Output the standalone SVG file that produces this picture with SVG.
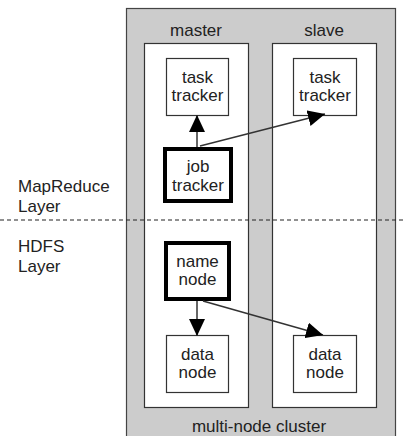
<svg xmlns="http://www.w3.org/2000/svg" width="406" height="436" viewBox="0 0 406 436">
<style>
text{font-family:"Liberation Sans",Arial,sans-serif;font-size:17px;fill:#222;}
.c{text-anchor:middle;}
.box{fill:#fff;stroke:#333;stroke-width:1.2;}
.thick{fill:#fff;stroke:#000;stroke-width:4;}
.con{stroke:#333;stroke-width:1.5;fill:none;}
</style>
<defs>
<marker id="ah" markerWidth="17" markerHeight="16" refX="17" refY="8" orient="auto" markerUnits="userSpaceOnUse">
<path d="M0,0 L17,8 L0,16 Z" fill="#000"/>
</marker>
</defs>
<g id="cluster">
<rect x="126.5" y="8.5" width="269" height="440" fill="#ccc" stroke="#444" stroke-width="1.2"/>
<text class="c" x="259" y="432">multi-node cluster</text>
</g>
<g id="master">
<rect x="144.5" y="43.5" width="104" height="364" class="box"/>
<text class="c" x="196" y="36">master</text>
</g>
<g id="slave">
<rect x="272.5" y="43.5" width="104" height="364" class="box"/>
<text class="c" x="324" y="36">slave</text>
</g>
<g id="layers">
<line x1="0" y1="220" x2="406" y2="220" stroke="#222" stroke-width="1.2" stroke-dasharray="4,3"/>
<text x="18" y="192">MapReduce</text>
<text x="18" y="212">Layer</text>
<text x="18" y="252">HDFS</text>
<text x="18" y="272">Layer</text>
</g>
<g id="master-task-tracker">
<rect x="166.5" y="58.5" width="62" height="57" class="box"/>
<text class="c" x="197.5" y="83">task</text>
<text class="c" x="197.5" y="101">tracker</text>
</g>
<g id="slave-task-tracker">
<rect x="293.5" y="58.5" width="63" height="57" class="box"/>
<text class="c" x="325" y="83">task</text>
<text class="c" x="325" y="101">tracker</text>
</g>
<g id="job-tracker">
<rect x="165" y="149" width="66" height="52" class="thick"/>
<text class="c" x="198" y="172">job</text>
<text class="c" x="198" y="191">tracker</text>
</g>
<g id="name-node">
<rect x="166" y="243" width="63" height="56" class="thick"/>
<text class="c" x="197.5" y="267">name</text>
<text class="c" x="197.5" y="285">node</text>
</g>
<g id="master-data-node">
<rect x="166.5" y="335.5" width="62" height="57" class="box"/>
<text class="c" x="197.5" y="360">data</text>
<text class="c" x="197.5" y="378">node</text>
</g>
<g id="slave-data-node">
<rect x="293.5" y="335.5" width="63" height="57" class="box"/>
<text class="c" x="325" y="360">data</text>
<text class="c" x="325" y="378">node</text>
</g>
<g id="connectors">
<line x1="197" y1="147" x2="197" y2="115" class="con" marker-end="url(#ah)"/>
<line x1="200" y1="146" x2="325" y2="114" class="con" marker-end="url(#ah)"/>
<line x1="197" y1="301" x2="197" y2="336" class="con" marker-end="url(#ah)"/>
<line x1="203" y1="301" x2="323" y2="335" class="con" marker-end="url(#ah)"/>
</g>
</svg>
